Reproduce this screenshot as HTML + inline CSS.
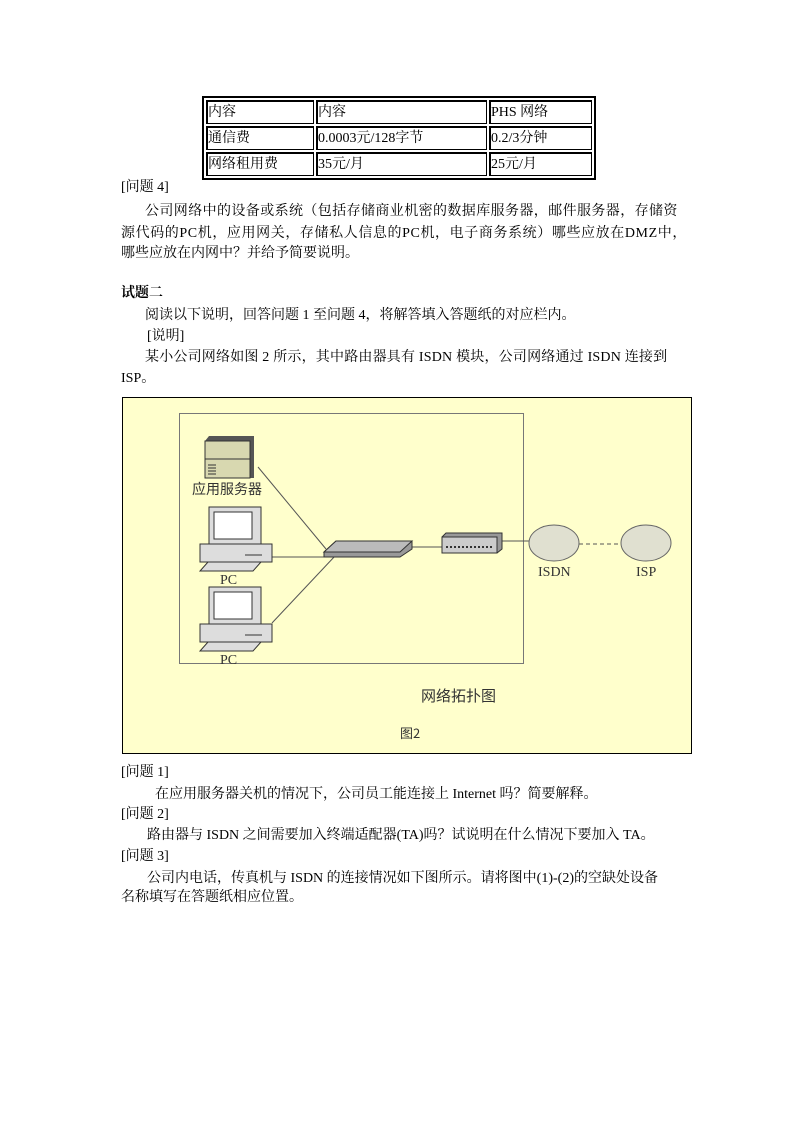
<!DOCTYPE html>
<html><head><meta charset="utf-8"><style>
body{margin:0;width:794px;height:1123px;background:#fff;position:relative;font-family:"Liberation Serif","SimSun","Noto Serif CJK SC",serif;font-size:14px;color:#000}
.t{position:absolute;white-space:nowrap;line-height:16px}
table{position:absolute;left:202px;top:96px;border-collapse:separate;border-spacing:2px;border:2px solid #000;background:#fff}
td{border:1px solid #000;border-width:2px 1px 1px 2px;height:21px;padding:0;font-size:14px;line-height:21px;vertical-align:middle}
</style></head><body>
<table>
<tr><td style="width:105px">内容</td><td style="width:168px">内容</td><td style="width:100px">PHS 网络</td></tr>
<tr><td>通信费</td><td>0.0003元/128字节</td><td>0.2/3分钟</td></tr>
<tr><td>网络租用费</td><td>35元/月</td><td>25元/月</td></tr>
</table>
<div class="t" style="left:121px;top:180px">[问题 4]</div>
<div class="t" style="left:145px;top:204px;letter-spacing:0.4px">公司网络中的设备或系统（包括存储商业机密的数据库服务器，邮件服务器，存储资</div>
<div class="t" style="left:121px;top:226px;letter-spacing:0.6px">源代码的PC机，应用网关，存储私人信息的PC机，电子商务系统）哪些应放在DMZ中，</div>
<div class="t" style="left:121px;top:246px">哪些应放在内网中？并给予简要说明。</div>
<div class="t" style="left:121px;top:286px;font-weight:bold">试题二</div>
<div class="t" style="left:145px;top:308px">阅读以下说明，回答问题 1 至问题 4，将解答填入答题纸的对应栏内。</div>
<div class="t" style="left:147px;top:329px">[说明]</div>
<div class="t" style="left:145px;top:350px;letter-spacing:0.2px">某小公司网络如图 2 所示，其中路由器具有 ISDN 模块，公司网络通过 ISDN 连接到</div>
<div class="t" style="left:121px;top:371px">ISP。</div>

<svg style="position:absolute;left:0;top:0" width="794" height="1123">
<rect x="122.5" y="397.5" width="569" height="356" fill="#ffffcc" stroke="#000"/>
<rect x="179.5" y="413.5" width="344" height="250" fill="none" stroke="#777"/>
<g stroke="#555" fill="none">
<line x1="258" y1="467" x2="326" y2="549"/>
<line x1="272" y1="557" x2="324" y2="557"/>
<line x1="272" y1="623" x2="335" y2="556"/>
<line x1="412" y1="547" x2="442" y2="547"/>
<line x1="502" y1="541" x2="529" y2="541"/>
<line x1="579" y1="544" x2="622" y2="544" stroke-dasharray="4,3"/>
</g>
<polygon points="205,441 209,436 254,436 254,478 250,478 205,478" fill="#555"/>
<rect x="205" y="441" width="45" height="37" fill="#d8d8b0" stroke="#333"/>
<line x1="205" y1="459" x2="250" y2="459" stroke="#333"/>
<g stroke="#333"><line x1="208" y1="465" x2="216" y2="465"/><line x1="208" y1="468" x2="216" y2="468"/><line x1="208" y1="471" x2="216" y2="471"/><line x1="208" y1="474" x2="216" y2="474"/></g>
<g id="pc">
<rect x="209" y="507" width="52" height="37" fill="#ddd" stroke="#333"/>
<rect x="214" y="512" width="38" height="27" fill="#fff" stroke="#333"/>
<rect x="200" y="544" width="72" height="18" fill="#ddd" stroke="#333"/>
<line x1="245" y1="555" x2="262" y2="555" stroke="#333"/>
<polygon points="208,562 261,562 253,571 200,571" fill="#ddd" stroke="#333"/>
</g>
<use href="#pc" y="80"/>
<polygon points="324,552 336,541 412,541 412,549 400,557 324,557" fill="#999" stroke="#333"/>
<polygon points="324,552 336,541 412,541 400,552" fill="#bbb" stroke="#333"/>
<polygon points="442,537 446,533 502,533 502,549 497,553 442,553" fill="#999" stroke="#333"/>
<rect x="442" y="537" width="55" height="16" fill="#ccc" stroke="#333"/>
<line x1="446" y1="547" x2="493" y2="547" stroke="#333" stroke-width="2" stroke-dasharray="2,2"/>
<ellipse cx="554" cy="543" rx="25" ry="18" fill="#e0e0d0" stroke="#666"/>
<ellipse cx="646" cy="543" rx="25" ry="18" fill="#e0e0d0" stroke="#666"/>
<g font-family="Liberation Serif,serif" font-size="14" fill="#333">
<text x="538" y="576">ISDN</text><text x="636" y="576">ISP</text>
<text x="220" y="584">PC</text><text x="220" y="664">PC</text>
</g>
<g font-family="Noto Sans CJK SC,sans-serif" fill="#333">
<text x="192" y="494" font-size="14">应用服务器</text>
<text x="421" y="701" font-size="15">网络拓扑图</text>
<text x="400" y="738" font-size="13">图2</text>
</g>
</svg>

<div class="t" style="left:121px;top:765px">[问题 1]</div>
<div class="t" style="left:155px;top:787px">在应用服务器关机的情况下，公司员工能连接上 Internet 吗？简要解释。</div>
<div class="t" style="left:121px;top:807px">[问题 2]</div>
<div class="t" style="left:147px;top:828px">路由器与 ISDN 之间需要加入终端适配器(TA)吗？试说明在什么情况下要加入 TA。</div>
<div class="t" style="left:121px;top:849px">[问题 3]</div>
<div class="t" style="left:147px;top:871px">公司内电话，传真机与 ISDN 的连接情况如下图所示。请将图中(1)-(2)的空缺处设备</div>
<div class="t" style="left:121px;top:890px">名称填写在答题纸相应位置。</div>
</body></html>
